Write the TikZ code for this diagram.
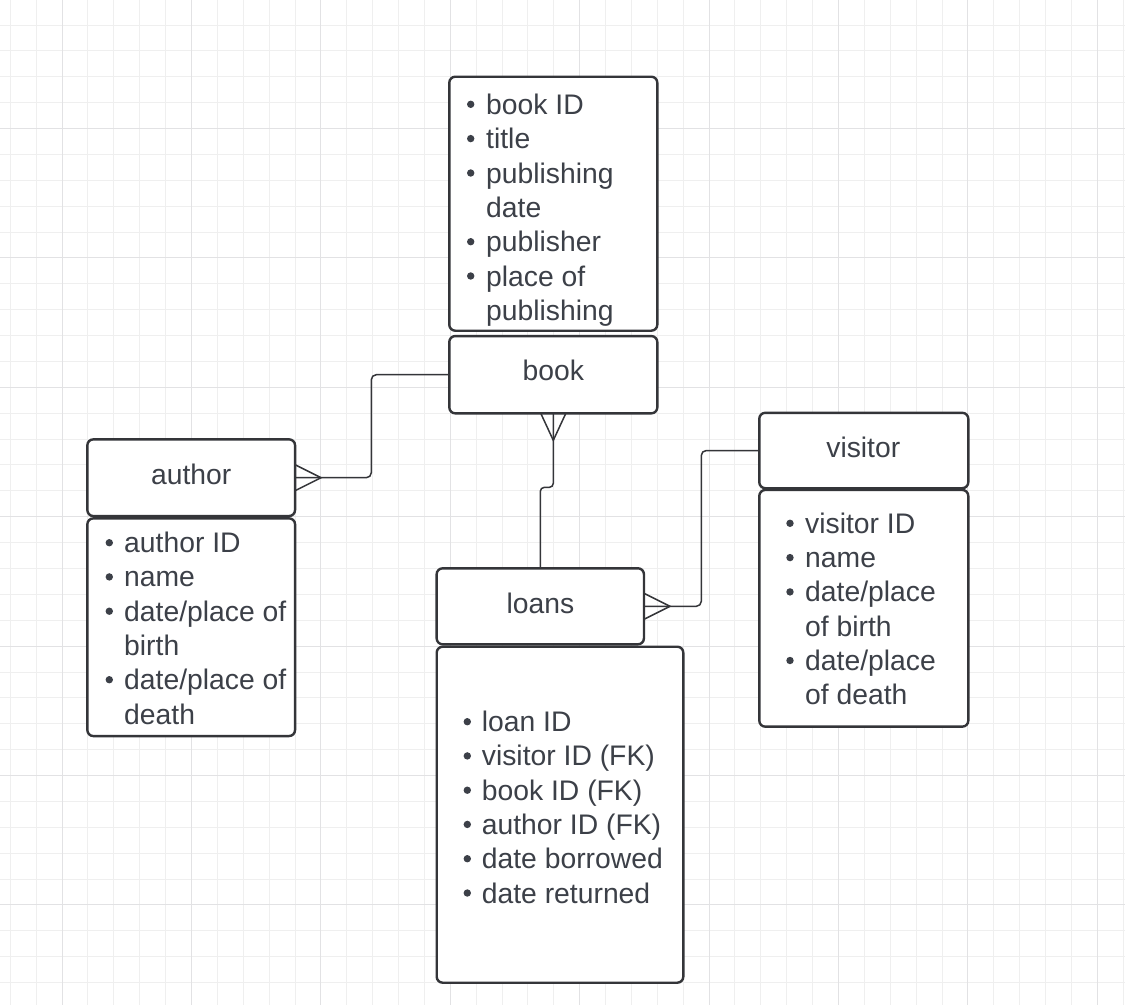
\documentclass[tikz,border=0pt]{standalone}
\usepackage{fontspec}
\setmainfont{Liberation Sans}
\usetikzlibrary{calc}
\definecolor{txtc}{RGB}{60,64,72}
\definecolor{linec}{RGB}{52,53,57}
\definecolor{gridminor}{RGB}{239,239,239}
\definecolor{gridmajor}{RGB}{226,226,228}
\tikzset{
  box/.style={draw=linec, line width=2.4pt, rounded corners=6pt, fill=white, inner sep=0pt, outer sep=0pt},
  txt/.style={text=txtc, inner sep=0pt, font=\fontsize{28.3pt}{34.4pt}\selectfont},
  conn/.style={draw=linec, line width=1.5pt, rounded corners=5pt},
  foot/.style={draw=linec, line width=1.5pt},
  bul/.style={fill=txtc},
  gminor/.style={draw=gridminor, line width=0.9pt},
  gmajor/.style={draw=gridmajor, line width=1.1pt}
}
\begin{document}
\begin{tikzpicture}[x=1pt,y=-1pt]
\useasboundingbox (0,0) rectangle (1125,1005);
\fill[white] (0,0) rectangle (1125,1005);
% grid
\foreach \i in {0,...,43} \draw[gminor] ({10.3+25.88*\i},0) -- ++(0,1005);
\foreach \i in {0,...,39} \draw[gminor] (0,{-0.9+25.88*\i}) -- ++(1125,0);
\foreach \i in {0,...,8} \draw[gmajor] ({62.06+129.4*\i},0) -- ++(0,1005);
\foreach \i in {0,...,7} \draw[gmajor] (0,{-0.9+129.4*\i}) -- ++(1125,0);

% boxes
\node[box, minimum width=208pt, minimum height=254pt] (bookattr) at (553.3,203.7) {};
\node[box, minimum width=208pt, minimum height=77.3pt] (book) at (553.3,374.7) {};
\node[box, minimum width=207.7pt, minimum height=76.7pt] (author) at (191.2,477.7) {};
\node[box, minimum width=207.7pt, minimum height=217.7pt] (authorattr) at (191.2,627.2) {};
\node[box, minimum width=207.3pt, minimum height=76pt] (loans) at (540.3,606.3) {};
\node[box, minimum width=246.6pt, minimum height=336pt] (loansattr) at (560,814.7) {};
\node[box, minimum width=209pt, minimum height=75.4pt] (visitor) at (863.8,450.5) {};
\node[box, minimum width=209pt, minimum height=236.7pt] (visitorattr) at (863.8,608.3) {};

% titles
\node[txt, anchor=base] (tbook) at (553.3,380) {book};
\node[txt, anchor=base] (tauthor) at (191.2,484.3) {author};
\node[txt, anchor=base] (tloans) at (540.5,613.3) {loans};
\node[txt, anchor=base] (tvisitor) at (863.3,457.7) {visitor};

% book attributes
\node[txt, anchor=base west] (b1) at (486,114.3) {book ID};
\node[txt, anchor=base west] (b2) at (486,148.6) {title};
\node[txt, anchor=base west] (b3) at (486,183) {publishing};
\node[txt, anchor=base west] (b4) at (486,217.3) {date};
\node[txt, anchor=base west] (b5) at (486,251.7) {publisher};
\node[txt, anchor=base west] (b6) at (486,286) {place of};
\node[txt, anchor=base west] (b7) at (486,320.4) {publishing};
\foreach \y in {114.3,148.6,183,251.7,286} \fill[bul] (470.7,\y-10) circle (3.7);

% author attributes
\node[txt, anchor=base west] (a1) at (124,552.7) {author ID};
\node[txt, anchor=base west] (a2) at (124,586.9) {name};
\node[txt, anchor=base west] (a3) at (124,621.2) {date/place of};
\node[txt, anchor=base west] (a4) at (124,655.4) {birth};
\node[txt, anchor=base west] (a5) at (124,689.7) {date/place of};
\node[txt, anchor=base west] (a6) at (124,724) {death};
\foreach \y in {552.7,586.9,621.2,689.7} \fill[bul] (109.3,\y-10) circle (3.7);

% loans attributes
\node[txt, anchor=base west] (l1) at (481.7,731.7) {loan ID};
\node[txt, anchor=base west] (l2) at (481.7,765.9) {visitor ID (FK)};
\node[txt, anchor=base west] (l3) at (481.7,800.2) {book ID (FK)};
\node[txt, anchor=base west] (l4) at (481.7,834.4) {author ID (FK)};
\node[txt, anchor=base west] (l5) at (481.7,868.7) {date borrowed};
\node[txt, anchor=base west] (l6) at (481.7,903) {date returned};
\foreach \y in {731.7,765.9,800.2,834.4,868.7,903} \fill[bul] (467.3,\y-10) circle (3.7);

% visitor attributes
\node[txt, anchor=base west] (v1) at (805,533.3) {visitor ID};
\node[txt, anchor=base west] (v2) at (805,567.6) {name};
\node[txt, anchor=base west] (v3) at (805,601.9) {date/place};
\node[txt, anchor=base west] (v4) at (805,636.2) {of birth};
\node[txt, anchor=base west] (v5) at (805,670.5) {date/place};
\node[txt, anchor=base west] (v6) at (805,704.8) {of death};
\foreach \y in {533.3,567.6,601.9,670.5} \fill[bul] (790,\y-10) circle (3.7);

% connectors
\coordinate (j1) at ([xshift=-78pt]book.west);
\draw[conn] (book.west) -- (j1) -- (j1 |- author.east) -- (author.east);
\draw[foot] ($(author.east)+(0,-13)$) -- ($(author.east)+(26,0)$) -- ($(author.east)+(0,13)$);

\coordinate (j2a) at ($(book.south)+(0,74)$);
\coordinate (j2b) at (loans.north |- j2a);
\draw[conn, rounded corners=4pt] (book.south) -- (j2a) -- (j2b) -- (loans.north);
\draw[foot] ($(book.south)+(-12.5,0)$) -- ($(book.south)+(0,27)$) -- ($(book.south)+(12.5,0)$);

\coordinate (j3) at ([xshift=-58pt]visitor.west);
\draw[conn] (visitor.west) -- (j3) -- (j3 |- loans.east) -- (loans.east);
\draw[foot] ($(loans.east)+(0,-13)$) -- ($(loans.east)+(26,0)$) -- ($(loans.east)+(0,13)$);
\end{tikzpicture}
\end{document}
